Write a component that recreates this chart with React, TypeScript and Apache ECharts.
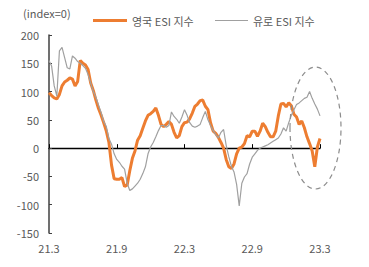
import React, { useEffect, useRef } from "react";
import * as echarts from "echarts";

const tickLabels = ["21.3", "21.9", "22.3", "22.9", "23.3"];
const weeksPerTick = 26;

// weekly observations, 2021.3 -> 2023.3
const ukESI = [
  98, 93, 89, 87, 95, 110, 117, 120, 124, 122,
  110, 118, 155, 150, 147, 139, 115, 102, 85, 70,
  58, 45, 30, 10, -30, -54, -55, -55, -52, -68,
  -65, -40, -18, -5, 14, 22, 35, 48, 58, 61,
  65, 71, 58, 42, 38, 42, 47, 42, 28, 18,
  22, 38, 45, 46, 52, 62, 74, 78, 84, 85,
  74, 68, 45, 30, 26, 19, 10, 0, -20, -33,
  -36, -28, -10, 0, 2, 8, 22, 20, 30, 30,
  21, 30, 44, 38, 28, 20, 20, 30, 57, 78,
  79, 73, 80, 75, 60, 55, 42, 48, 36, 20,
  8, -5, -33, 2, 17,
];

const euroESI = [
  155, 145, 110, 92, 172, 178, 160, 142, 140, 163,
  159, 153, 150, 146, 141, 130, 115, 100, 90, 76,
  63, 47, 38, 17, 7, -10, -20, -25, -32, -37,
  -62, -75, -72, -67, -62, -55, -45, -33, -10, 2,
  10, 20, 31, 40, 40, 37, 40, 64, 56, 51,
  44, 55, 68, 58, 45, 39, 37, 39, 42, 54,
  65, 50, 40, 31, 24, 18, 28, 33, 5, -15,
  -32, -42, -64, -102, -62, -51, -45, -28, -16, -10,
  -4, 0, 2, 4, 6, 9, 12, 15, 18, 25,
  36, 30, 45, 58, 68, 77, 80, 84, 88, 90,
  100, 88, 78, 69, 57,
];

const weeks = ukESI.map((_, i) => `W${i}`);

const FONT = "'Noto Sans CJK KR', 'Noto Sans', sans-serif";
const TXT = "#595959";

export default function App() {
  const ref = useRef<HTMLDivElement>(null);
  useEffect(() => {
    if (!ref.current) return;
    const chart = echarts.init(ref.current, undefined, { renderer: "svg" });
    chart.setOption({
      animation: false,
      textStyle: { fontFamily: FONT },
      grid: { left: 49, right: 49, top: 35, bottom: 34, containLabel: false },
      legend: [
        {
          left: 88,
          top: 10,
          icon: "rect",
          itemWidth: 34,
          itemHeight: 3,
          data: ["영국 ESI 지수"],
          textStyle: { color: TXT, fontSize: 11, fontFamily: FONT },
        },
        {
          left: 210,
          top: 10,
          icon: "rect",
          itemWidth: 33,
          itemHeight: 1.2,
          data: ["유로 ESI 지수"],
          textStyle: { color: TXT, fontSize: 11, fontFamily: FONT },
        },
      ],
      graphic: [
        {
          type: "text",
          left: 23,
          top: 7,
          style: { text: "(index=0)", fill: TXT, fontSize: 11, fontFamily: FONT },
        },
        {
          type: "ellipse",
          shape: { cx: 315.5, cy: 128, rx: 25.5, ry: 61 },
          style: { fill: "none", stroke: "#8c8c8c", lineWidth: 1.2, lineDash: [5, 4] },
          z: 10,
        },
      ],
      xAxis: [
        {
          type: "category",
          data: weeks,
          boundaryGap: false,
          position: "bottom",
          axisLine: { show: false, onZero: false },
          axisTick: { show: false },
          splitLine: { show: false },
          axisLabel: {
            interval: weeksPerTick - 1,
            margin: 9,
            color: TXT,
            fontSize: 11,
            fontFamily: FONT,
            formatter: (_v: string, i: number) => tickLabels[Math.round(i / weeksPerTick)] ?? "",
          },
        },
        {
          type: "category",
          data: weeks,
          boundaryGap: false,
          position: "top",
          axisLine: { show: true, onZero: true, lineStyle: { color: "#000", width: 1.3 } },
          axisTick: { show: true, inside: false, interval: weeksPerTick - 1, length: 4, lineStyle: { color: "#000", width: 1 } },
          axisLabel: { show: false },
          splitLine: { show: false },
        },
      ],
      yAxis: {
        type: "value",
        min: -150,
        max: 200,
        interval: 50,
        axisLine: { show: true, onZero: false, lineStyle: { color: "#404040", width: 1.5 } },
        axisTick: { show: true, inside: true, length: 3, lineStyle: { color: "#404040" } },
        splitLine: { show: false },
        axisLabel: { color: TXT, fontSize: 11, margin: 10, fontFamily: FONT },
      },
      series: [
        {
          name: "영국 ESI 지수",
          type: "line",
          data: ukESI,
          symbol: "none",
          color: "#ED7D31",
          lineStyle: { color: "#ED7D31", width: 3 },
        },
        {
          name: "유로 ESI 지수",
          type: "line",
          data: euroESI,
          symbol: "none",
          color: "#A0A0A0",
          lineStyle: { color: "#A0A0A0", width: 1.2 },
        },
      ],
    });
    return () => chart.dispose();
  }, []);
  return (
    <div
      ref={ref}
      style={{ position: "fixed", left: 0, top: 0, width: 369, height: 267, background: "#fff" }}
    />
  );
}
